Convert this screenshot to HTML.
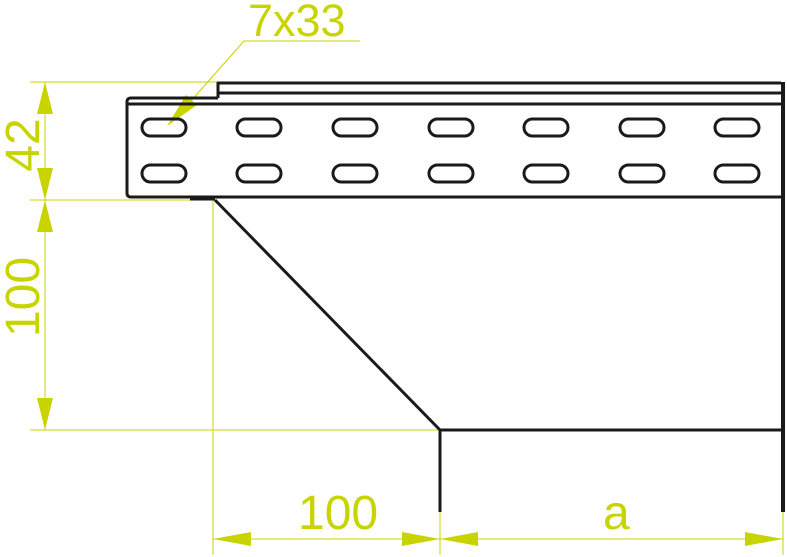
<!DOCTYPE html>
<html><head><style>body{margin:0;background:#fff}svg{display:block}</style></head>
<body>
<svg width="787" height="557" viewBox="0 0 787 557" xmlns="http://www.w3.org/2000/svg" font-family="Liberation Sans, sans-serif">
<g stroke="#c8d400" stroke-width="1" fill="none">
<line x1="30" y1="82" x2="218" y2="82"/>
<line x1="30" y1="200" x2="195" y2="200"/>
<line x1="30" y1="430" x2="440" y2="430"/>
<line x1="45" y1="82" x2="45" y2="430"/>
<line x1="213" y1="200" x2="213" y2="555"/>
<line x1="440" y1="512" x2="440" y2="555"/>
<line x1="783" y1="512" x2="783" y2="555"/>
<line x1="213" y1="539" x2="783" y2="539"/>
<line x1="244" y1="41" x2="360" y2="41"/>
<line x1="244" y1="41" x2="190" y2="102"/>
</g>
<g fill="#c8d400">
<polygon points="45,82 37,114 53,114"/>
<polygon points="45,200 37,168 53,168"/>
<polygon points="45,200 37,232 53,232"/>
<polygon points="45,430 37,398 53,398"/>
<polygon points="213,539 251,532 251,546"/>
<polygon points="440,539 402,532 402,546"/>
<polygon points="440,539 478,532 478,546"/>
<polygon points="783,539 745,532 745,546"/>
<polygon points="167,126 186,95 197,105"/>
<text x="248" y="36" font-size="45">7x33</text>
<text x="298" y="529" font-size="48">100</text>
<text x="603" y="529" font-size="48">a</text>
<text transform="translate(39,145) rotate(-90)" text-anchor="middle" font-size="48">42</text>
<text transform="translate(39,297) rotate(-90)" text-anchor="middle" font-size="48">100</text>
</g>
<g stroke="#1a1a1a" stroke-width="3" fill="none" stroke-linejoin="round">
<path d="M218,98 L218,83 L781,83"/>
<path d="M218,93 L781,93"/>
<path d="M218,98 L131,98 Q127,98 127,102 L127,193 Q127,197 131,197 L781,197"/>
<path d="M127,104 L781,104"/>
<path d="M215,200 L440,430 L783,430"/>
<path d="M440,430 L440,512"/>
<line x1="783" y1="82" x2="783" y2="512" stroke-width="4"/>
<line x1="190" y1="198" x2="215" y2="198" stroke-width="5"/>
</g>
<g stroke="#1a1a1a" stroke-width="3" fill="none">
<rect x="142" y="119" width="44" height="17" rx="8.5"/><rect x="142" y="165" width="44" height="17" rx="8.5"/>
<rect x="237" y="119" width="44" height="17" rx="8.5"/><rect x="237" y="165" width="44" height="17" rx="8.5"/>
<rect x="333" y="119" width="44" height="17" rx="8.5"/><rect x="333" y="165" width="44" height="17" rx="8.5"/>
<rect x="429" y="119" width="44" height="17" rx="8.5"/><rect x="429" y="165" width="44" height="17" rx="8.5"/>
<rect x="524" y="119" width="44" height="17" rx="8.5"/><rect x="524" y="165" width="44" height="17" rx="8.5"/>
<rect x="620" y="119" width="44" height="17" rx="8.5"/><rect x="620" y="165" width="44" height="17" rx="8.5"/>
<rect x="715" y="119" width="44" height="17" rx="8.5"/><rect x="715" y="165" width="44" height="17" rx="8.5"/>
</g>
</svg>
</body></html>
